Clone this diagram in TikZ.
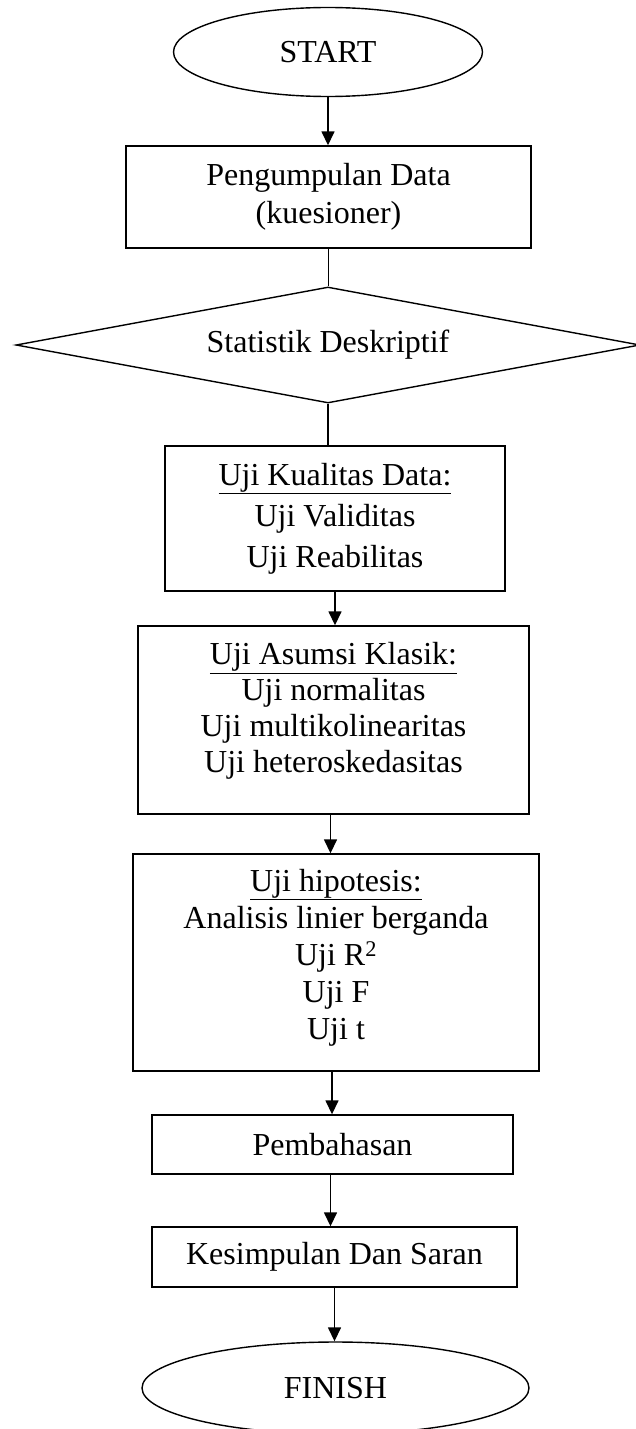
\documentclass[tikz,border=0pt]{standalone}
\usepackage{fontspec}
\setmainfont{Liberation Serif}
\usetikzlibrary{shapes.geometric,arrows.meta}
\begin{document}
\begin{tikzpicture}[x=1pt,y=-1pt,
  every node/.style={font=\fontsize{32}{37}\selectfont, inner sep=0pt},
  term/.style={draw, ellipse, line width=1.4pt},
  stepbox/.style={draw, rectangle, line width=1.4pt},
  decide/.style={draw, diamond, aspect=5.36, line width=1.4pt},
  txt/.style={align=center},
  flow/.style={line width=1.5pt, -{Triangle[length=14pt,width=13pt]}},
  plain/.style={line width=1.5pt}]
\useasboundingbox (0,0) rectangle (636,1429);
\begin{scope}
\clip (0,0) rectangle (636,1429);
\node[term, minimum width=309pt, minimum height=89pt] (start) at (328,52) {START};
\node[stepbox, minimum width=405pt, minimum height=102pt, txt, font=\fontsize{32}{38}\selectfont] (b1) at (328.5,197) {Pengumpulan Data\\(kuesioner)};
\node[decide, minimum width=624pt, minimum height=116pt] (d1) at (328,345) {Statistik Deskriptif};
\node[stepbox, minimum width=340pt, minimum height=145pt, txt, font=\fontsize{32}{41}\selectfont] (b2) at (335,518.5) {\underline{Uji Kualitas Data:}\\Uji Validitas\\Uji Reabilitas};
\node[stepbox, minimum width=391pt, minimum height=188pt] (b3) at (333.5,720) {};
\node[txt, font=\fontsize{32}{36}\selectfont, yshift=9pt] (t3) at (b3.center) {\underline{Uji Asumsi Klasik:}\\Uji normalitas\\Uji multikolinearitas\\Uji heteroskedasitas};
\node[stepbox, minimum width=406pt, minimum height=217pt] (b4) at (336,962.5) {};
\node[txt, font=\fontsize{32}{37}\selectfont, yshift=5pt] (t4) at (b4.center) {\underline{Uji hipotesis:}\\Analisis linier berganda\\Uji R\textsuperscript{2}\\Uji F\\Uji t};
\node[stepbox, minimum width=361pt, minimum height=59pt] (b5) at (332.5,1144.5) {Pembahasan};
\node[stepbox, minimum width=365pt, minimum height=60pt] (b6) at (334.5,1257) {Kesimpulan Dan Saran};
\node[term, minimum width=387pt, minimum height=92pt] (finish) at (335.5,1388) {FINISH};
\end{scope}
\draw[flow] (start.south) -- (start.south |- b1.north);
\draw[plain] (b1.south) -- (b1.south |- d1.north);
\draw[plain] (d1.south) -- (d1.south |- b2.north);
\draw[flow] (b2.south) -- (b2.south |- b3.north);
\draw[flow] ([xshift=-3pt]b3.south) -- ([xshift=-3pt]b3.south |- b4.north);
\draw[flow] ([xshift=-4pt]b4.south) -- ([xshift=-4pt]b4.south |- b5.north);
\draw[flow] ([xshift=-2pt]b5.south) -- ([xshift=-2pt]b5.south |- b6.north);
\draw[flow] (b6.south) -- (b6.south |- finish.north);
\end{tikzpicture}
\end{document}
